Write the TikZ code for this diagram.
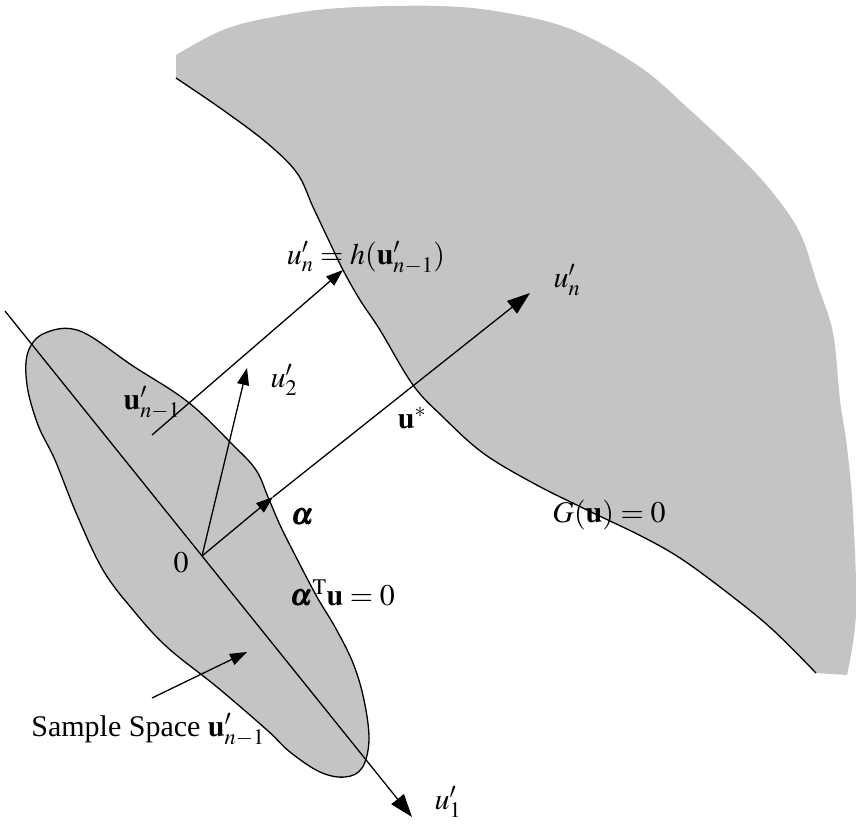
\documentclass[tikz,border=0pt]{standalone}
\usepackage{amsmath}
\usepackage{mathptmx}
\usepackage{fontspec}
\setmainfont{Liberation Serif}
\usetikzlibrary{arrows.meta}
\tikzset{
  shadefill/.style={fill=black!23},
  edgeline/.style={line width=1.3pt},
  bigtip/.style={line width=1.3pt,-{Triangle[length=23pt,width=16pt]}},
  smalltip/.style={line width=1.3pt,-{Triangle[length=17pt,width=12pt]}},
  lbl/.style={inner sep=0pt}
}
\begin{document}
\begin{tikzpicture}[x=1pt,y=-1pt,font=\fontsize{30}{34}\selectfont]
\useasboundingbox (0,0) rectangle (856,825);
% failure region
\fill[shadefill] (176,55) -- plot[smooth,tension=0.6] coordinates {(176,78) (223,110) (267,143) (297,173) (313,207) (330,243) (343,270) (360,300) (380,330) (413,385) (443,417) (483,453) (533,483) (587,510) (643,537) (683,560) (733,597) (773,630) (816,673)}
  -- plot[smooth,tension=0.6] coordinates {(847,675) (856,613) (853,513) (847,447) (840,400) (833,333) (817,283) (800,233) (773,193) (740,157) (690,110) (640,67) (573,30) (507,13) (440,6) (340,8) (273,17) (223,30) (176,55)} -- cycle;
\draw[edgeline] plot[smooth,tension=0.6] coordinates {(176,78) (223,110) (267,143) (297,173) (313,207) (330,243) (343,270) (360,300) (380,330) (413,385) (443,417) (483,453) (533,483) (587,510) (643,537) (683,560) (733,597) (773,630) (816,673)};
% sample space blob
\draw[edgeline,shadefill] plot[smooth cycle,tension=0.6] coordinates {(28,352) (45,333) (80,331) (133,366) (188,402) (233,445) (256,470) (268,497) (280,525) (295,555) (317,597) (335,627) (353,663) (364,700) (369,740) (362,768) (345,777) (320,772) (290,752) (267,730) (217,687) (167,647) (133,610) (103,570) (77,515) (55,460) (38,425) (27,385)};
% key points
\coordinate (L0) at (5,311);
\coordinate (O) at (202,556);
\coordinate (U1) at (412,817);
\coordinate (A) at (273,497);
\coordinate (Un) at (530,293);
\coordinate (U2) at (247,368);
\coordinate (N0) at (152,435);
\coordinate (N1) at (343,270);
\coordinate (S0) at (152,698);
\coordinate (S1) at (247,652);
% axes and vectors
\draw[bigtip] (L0) -- (U1);
\draw[smalltip] (O) -- (A);
\draw[bigtip] (A) -- (Un);
\draw[smalltip] (O) -- (U2);
\draw[smalltip] (N0) -- (N1);
\draw[smalltip] (S0) -- (S1);
% labels
\node[lbl] (lh) at (366,258) {$u'_n = h(\mathbf{u}'_{n-1})$};
\node[lbl] (lun) at (567,280) {$u'_n$};
\node[lbl] (lu2) at (284,380) {$u'_2$};
\node[lbl] (lnm) at (152,403) {$\mathbf{u}'_{n-1}$};
\node[lbl] (lus) at (412,418) {$\mathbf{u}^{*}$};
\node[lbl] (lal) at (303,517) {$\pmb{\alpha}$};
\node[lbl] (lo) at (181,563) {$0$};
\node[lbl] (lat) at (343,593) {$\pmb{\alpha}^{\mathrm{T}}\mathbf{u} = 0$};
\node[lbl] (lg) at (609,515) {$G(\mathbf{u}) = 0$};
\node[lbl] (lss) at (148,730) {Sample Space $\mathbf{u}'_{n-1}$};
\node[lbl] (lu1) at (448,802) {$u'_1$};
\end{tikzpicture}
\end{document}
